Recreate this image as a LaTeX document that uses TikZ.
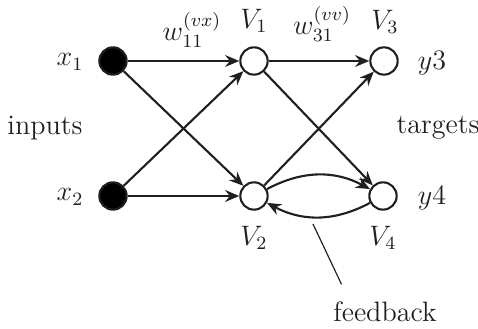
\documentclass[tikz,border=0pt]{standalone}
\usepackage{amsmath}
\usepackage{tikz}
\usetikzlibrary{arrows.meta}
\definecolor{ink}{rgb}{0.12,0.12,0.12}

\begin{document}
\begin{tikzpicture}[x=0.015cm,y=-0.015cm,font=\large,
  unit/.style={circle,draw=ink,line width=0.9pt,minimum size=0.41cm,inner sep=0pt},
  inunit/.style={unit,fill=black},
  link/.style={draw=ink,line width=0.9pt,-{Stealth[length=6pt,width=5pt]}},
  lbl/.style={text=ink}]
\useasboundingbox (0,0) rectangle (478,329);
% units
\node[inunit] (x1) at (113,61) {};
\node[inunit] (x2) at (113,196) {};
\node[unit] (V1) at (254,61) {};
\node[unit] (V2) at (254,196) {};
\node[unit] (V3) at (384,61) {};
\node[unit] (V4) at (383,196) {};
% labels
\node[lbl] (lx1) at (70,62) {$x_1$};
\node[lbl] (lx2) at (70,197) {$x_2$};
\node[lbl] (lin) at (45,128) {inputs};
\node[lbl] (ltg) at (438,128) {targets};
\node[lbl] (ly3) at (432,63) {$y3$};
\node[lbl] (ly4) at (432,198) {$y4$};
\node[lbl] (lV1) at (254,21) {$V_1$};
\node[lbl] (lV3) at (385,22) {$V_3$};
\node[lbl] (lV2) at (254,238) {$V_2$};
\node[lbl] (lV4) at (383,238) {$V_4$};
\node[lbl] (lw11) at (192,30) {$w^{(vx)}_{11}$};
\node[lbl] (lw31) at (322,24) {$w^{(vv)}_{31}$};
\node[lbl] (lfb) at (385,312) {feedback};
% connections
\draw[link] (x1) -- (V1);
\draw[link] (x1) -- (V2);
\draw[link] (x2) -- (V1);
\draw[link] (x2) -- (V2);
\draw[link] (V1) -- (V3);
\draw[link] (V1) -- (V4);
\draw[link] (V2) -- (V3);
\draw[link] (V2) to[bend left=28] (V4);
\draw[link] (V4) to[bend left=28] (V2);
% pointer to the feedback loop
\coordinate (fbtip) at (313,224);
\draw[draw=ink,line width=0.5pt] (fbtip) -- ([xshift=7pt,yshift=4pt]lfb.north west);
\end{tikzpicture}
\end{document}
